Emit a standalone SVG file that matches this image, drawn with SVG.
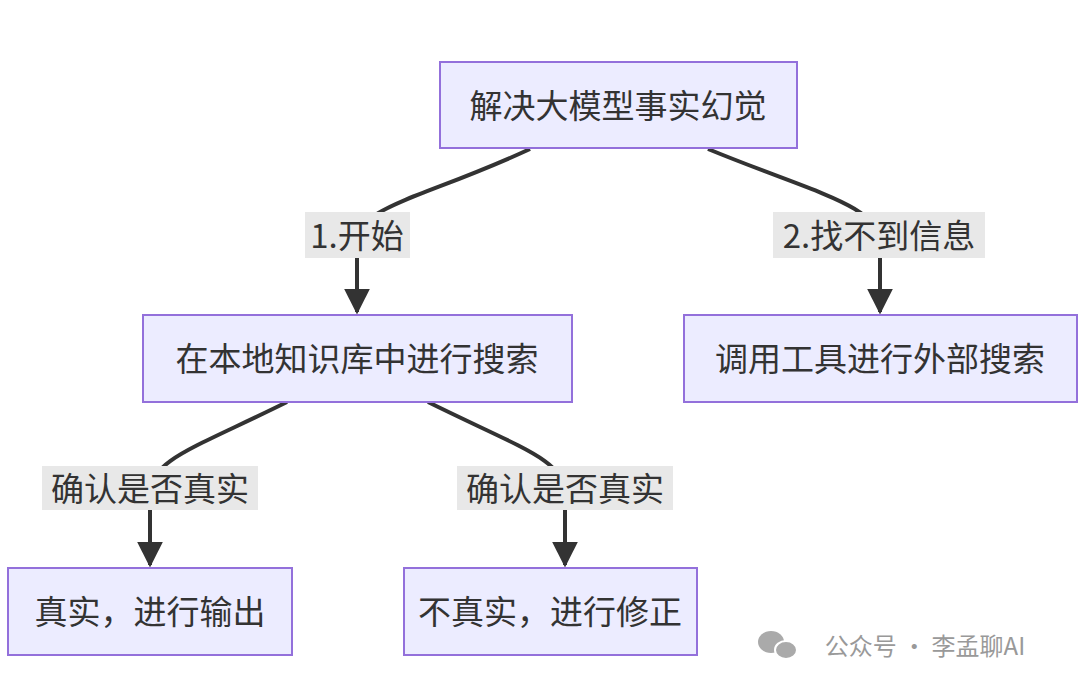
<svg xmlns="http://www.w3.org/2000/svg" width="1080" height="688" viewBox="0 0 1080 688">
<style>
.n rect{fill:#ECECFF;stroke:#9370DB;stroke-width:2}
text{font-family:"Noto Sans CJK SC","Liberation Sans",sans-serif;fill:#333;font-size:33px;text-anchor:middle;dominant-baseline:central}
.e path{fill:none;stroke:#333;stroke-width:4}
.lb{fill:#E8E8E8}
</style>
<defs><marker id="a" viewBox="0 0 10 10" refX="9" refY="5" markerWidth="6.5" markerHeight="6.5" orient="auto" markerUnits="strokeWidth"><path d="M0,0 L10,5 L0,10 z" fill="#333"/></marker></defs>
<rect width="1080" height="688" fill="#fff"/>
<g class="e">
<path d="M530,149 C420,200 357,205 357,245 L357,312" marker-end="url(#a)"/>
<path d="M708,149 C820,195 880,205 880,245 L880,312" marker-end="url(#a)"/>
<path d="M287,402 C190,450 150,460 150,495 L150,565" marker-end="url(#a)"/>
<path d="M428,402 C525,450 565,460 565,495 L565,565" marker-end="url(#a)"/>
</g>
<g id="l1"><rect class="lb" x="305" y="212" width="105" height="46"/><text x="357" y="234">1.开始</text></g>
<g id="l2"><rect class="lb" x="773" y="212" width="212" height="46"/><text x="879" y="234">2.找不到信息</text></g>
<g id="l3"><rect class="lb" x="42" y="466" width="216" height="44"/><text x="150" y="487">确认是否真实</text></g>
<g id="l4"><rect class="lb" x="457" y="466" width="216" height="44"/><text x="565" y="487">确认是否真实</text></g>
<g id="n1" class="n"><rect x="440" y="62" width="357" height="86"/><text x="618" y="104">解决大模型事实幻觉</text></g>
<g id="n2" class="n"><rect x="143" y="315" width="429" height="87"/><text x="357" y="357">在本地知识库中进行搜索</text></g>
<g id="n3" class="n"><rect x="684" y="315" width="393" height="87"/><text x="880" y="357">调用工具进行外部搜索</text></g>
<g id="n4" class="n"><rect x="8" y="568" width="284" height="87"/><text x="150" y="610">真实，进行输出</text></g>
<g id="n5" class="n"><rect x="404" y="568" width="293" height="87"/><text x="550" y="610">不真实，进行修正</text></g>
<g id="wm"><ellipse cx="771" cy="642" rx="13" ry="11" fill="#aaa"/><ellipse cx="786" cy="650" rx="11" ry="9" fill="#aaa" stroke="#fff" stroke-width="2"/>
<text x="925" y="644" style="font-size:24px;fill:#999">公众号 · 李孟聊AI</text></g>
</svg>
